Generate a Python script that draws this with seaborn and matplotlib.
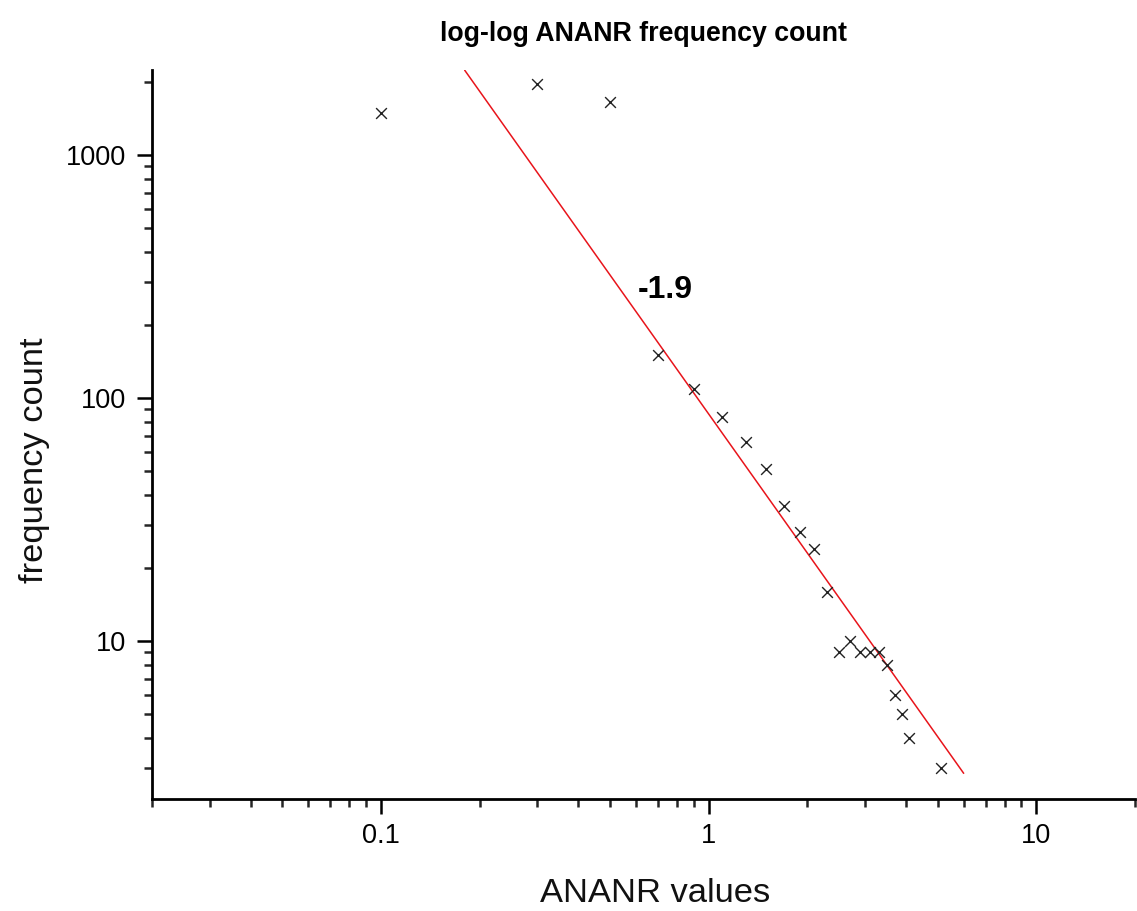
import numpy as np
import pandas as pd
import matplotlib
matplotlib.use("Agg")
import matplotlib.pyplot as plt
from matplotlib.ticker import FixedLocator, FuncFormatter, LogLocator, NullFormatter
import seaborn as sns

# ANANR bin centres and their frequency counts
ananr_values = [0.1, 0.3, 0.5, 0.7, 0.9, 1.1, 1.3, 1.5, 1.7, 1.9, 2.1, 2.3,
                2.5, 2.7, 2.9, 3.1, 3.3, 3.5, 3.7, 3.9, 4.1, 5.1]
frequency_counts = [1490, 1960, 1660, 150, 109, 84, 66, 51, 36, 28, 24, 16,
                    9, 10, 9, 9, 9, 8, 6, 5, 4, 3]

# power-law fit: count = amplitude * value ** slope
fit_slope = -1.9
fit_amplitude = 86.0
fit_range = [0.18, 6.0]

x_ticks = [0.1, 1, 10]
y_ticks = [10, 100, 1000]

sns.set_style("ticks")
plt.rcParams["font.family"] = ["Liberation Sans", "DejaVu Sans"]
plt.rcParams["text.color"] = "black"
plt.rcParams["axes.labelcolor"] = "black"

fig = plt.figure(figsize=(11.37, 9.11), dpi=100)
ax = fig.add_axes([152 / 1137, (911 - 799) / 911, (1135 - 152) / 1137, (799 - 70) / 911])

points = pd.DataFrame({"value": ananr_values, "count": frequency_counts})
fit_x = np.array(fit_range)
fit = pd.DataFrame({"value": fit_x, "count": fit_amplitude * fit_x ** fit_slope})

ax.set_xscale("log")
ax.set_yscale("log")

sns.lineplot(data=fit, x="value", y="count", ax=ax, color="#e8141b", linewidth=1.1)
sns.scatterplot(data=points, x="value", y="count", ax=ax, marker="x", s=60,
                color="#222222", linewidth=1.0, zorder=3)

ax.set_xlim(0.02, 20)
ax.set_ylim(2.24, 2240)

ax.xaxis.set_major_locator(FixedLocator(x_ticks))
ax.yaxis.set_major_locator(FixedLocator(y_ticks))
ax.xaxis.set_minor_locator(LogLocator(base=10, subs=np.arange(2, 10)))
ax.yaxis.set_minor_locator(LogLocator(base=10, subs=np.arange(2, 10)))
ax.xaxis.set_minor_formatter(NullFormatter())
ax.yaxis.set_minor_formatter(NullFormatter())
ax.xaxis.set_major_formatter(FuncFormatter(lambda v, p: f"{v:g}"))
ax.yaxis.set_major_formatter(FuncFormatter(lambda v, p: f"{v:g}"))

for side in ("top", "right"):
    ax.spines[side].set_visible(False)
for side in ("left", "bottom"):
    ax.spines[side].set_linewidth(2.0)
    ax.spines[side].set_color("black")

ax.tick_params(which="major", length=10.5, width=1.8, labelsize=19.5,
               colors="black", direction="out")
ax.tick_params(which="minor", length=6, width=1.8, direction="out")
ax.tick_params(axis="x", which="major", pad=7)
ax.tick_params(axis="y", which="major", pad=8)

ax.set_xlabel("ANANR values", fontsize=24.8, color="#111111")
ax.set_ylabel("frequency count", fontsize=24.8, color="#111111")
ax.xaxis.set_label_coords(0.5117, -0.109)
ax.yaxis.set_label_coords(-0.1038, 0.465)

ax.set_title("log-log ANANR frequency count", fontsize=19.3, fontweight="bold",
             color="black", pad=21)

ax.text(0.736, 278, "-1.9", fontsize=23, fontweight="bold", ha="center", va="center",
        color="black")

fig.savefig("out.png", dpi=100, facecolor="white")
